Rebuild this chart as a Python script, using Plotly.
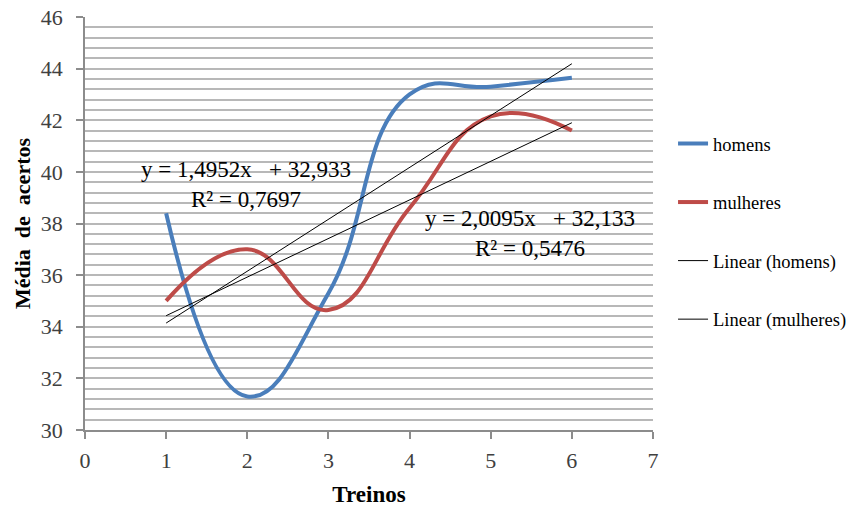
import plotly.graph_objects as go

# ---- data ----
treinos = [1, 2, 3, 4, 5, 6]
homens = [38.4, 31.3, 35.3, 43.0, 43.3, 43.65]
mulheres = [35.0, 37.0, 34.65, 38.6, 42.15, 41.6]

series_names = ["homens", "mulheres"]
trend_names = ["Linear (homens)", "Linear (mulheres)"]
trend_slopes = [2.0095, 1.4952]
trend_intercepts = [32.133, 32.933]
trend_labels = ["y = 2,0095x\u00a0\u00a0 + 32,133<br>R² = 0,5476",
                "y = 1,4952x\u00a0\u00a0 + 32,933<br>R² = 0,7697"]

x_ticks = [0, 1, 2, 3, 4, 5, 6, 7]
y_ticks = [30, 32, 34, 36, 38, 40, 42, 44, 46]

colors = ["#4A7EBB", "#BE4B48"]
FONT = "Liberation Serif, Times New Roman, serif"

fig = go.Figure()
for i, (name, ys) in enumerate(zip(series_names, [homens, mulheres])):
    fig.add_trace(go.Scatter(
        x=treinos, y=ys, name=name, mode="lines",
        line=dict(color=colors[i], width=4, shape="spline", smoothing=1.3),
        legendgroup=f"g{i}"))

tx = [treinos[0], treinos[-1]]
for i, name in enumerate(trend_names):
    ty = [trend_slopes[i] * x + trend_intercepts[i] for x in tx]
    fig.add_trace(go.Scatter(
        x=tx, y=ty, name=name, mode="lines",
        line=dict(color="black", width=1), legendgroup=f"t{i}"))

# trendline equation labels
fig.add_annotation(x=1.99, y=39.51, text=trend_labels[1], showarrow=False,
                   xref="x", yref="y", align="center",
                   font=dict(family=FONT, size=23, color="black"))
fig.add_annotation(x=5.49, y=37.62, text=trend_labels[0], showarrow=False,
                   xref="x", yref="y", align="center",
                   font=dict(family=FONT, size=23, color="black"))

grid_c = "#B8B8B8"
axis_c = "#8C8C8C"
fig.update_layout(
    width=860, height=507,
    margin=dict(l=85, r=207, t=17, b=77),
    paper_bgcolor="white", plot_bgcolor="white",
    font=dict(family=FONT, color="#404040"),
    showlegend=True,
    legend=dict(xref="container", yref="container",
                x=0.7826, xanchor="left", y=0.7535, yanchor="top",
                font=dict(family=FONT, size=18.5, color="black"),
                tracegroupgap=31.5, bgcolor="rgba(0,0,0,0)"),
    xaxis=dict(range=[0, 7], tickvals=x_ticks, showgrid=False,
               showline=True, linecolor=axis_c, linewidth=1.5,
               ticks="outside", ticklen=7, tickcolor=axis_c, tickwidth=1.5,
               ticklabelstandoff=3, automargin=False,
               tickfont=dict(family=FONT, size=22, color="#404040"),
               title=dict(text="<b>Treinos</b>", font=dict(family=FONT, size=23, color="black"),
                          standoff=15),
               zeroline=False),
    yaxis=dict(range=[30, 46], tickvals=y_ticks, showgrid=True,
               gridcolor=grid_c, gridwidth=1.5,
               showline=True, linecolor=axis_c, linewidth=1.5,
               ticks="outside", ticklen=7, tickcolor=axis_c, tickwidth=1.5,
               ticklabelstandoff=9, automargin=False,
               tickfont=dict(family=FONT, size=22, color="#404040"),
               minor=dict(tick0=30, dtick=0.4, showgrid=True, gridcolor=grid_c,
                          gridwidth=1.5, ticks=""),
               title=dict(text="<b>Média\u00a0 de\u00a0 acertos</b>",
                          font=dict(family=FONT, size=22, color="black"), standoff=4),
               zeroline=False),
)

fig.write_html("out.html")
